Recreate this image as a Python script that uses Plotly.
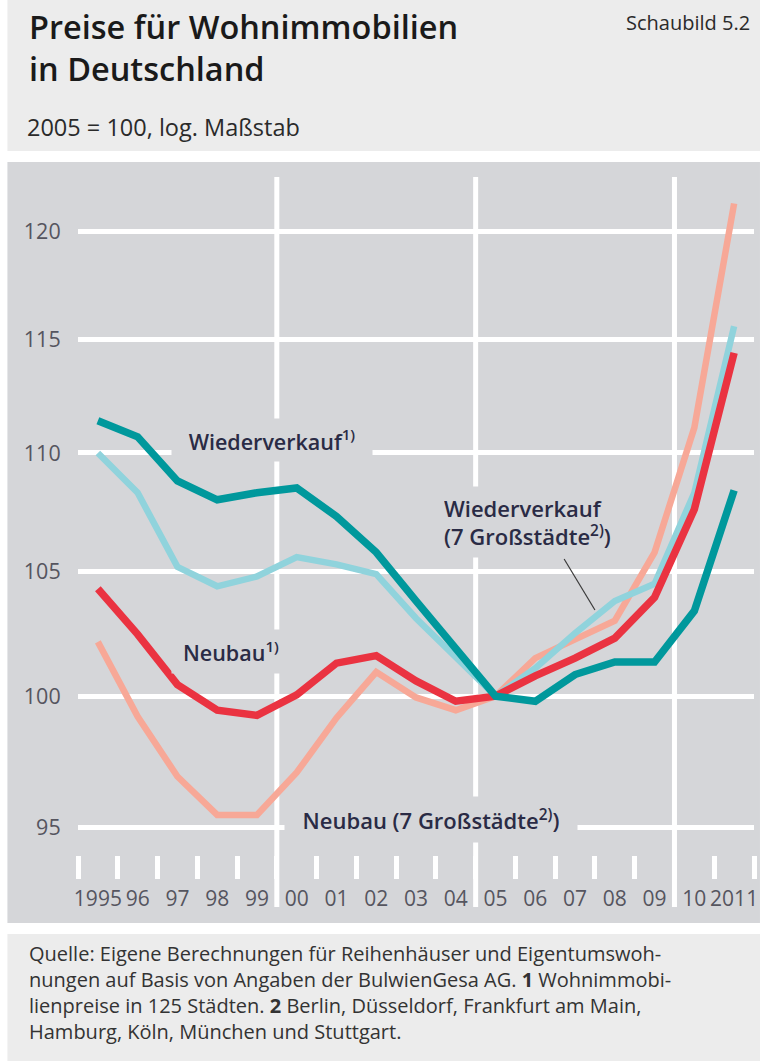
import math
import plotly.graph_objects as go

# ---------------- data ----------------
years = ["1995", "96", "97", "98", "99", "00", "01", "02", "03", "04",
         "05", "06", "07", "08", "09", "10", "2011"]
wiederverkauf = [111.4, 110.7, 108.8, 108.0, 108.3, 108.5, 107.3, 105.8, 103.8, 101.9,
                 100.0, 99.8, 100.85, 101.35, 101.35, 103.4, 108.4]
wiederverkauf_7 = [110.0, 108.3, 105.2, 104.4, 104.8, 105.6, 105.3, 104.9, 103.1, 101.5,
                   100.0, 101.1, 102.5, 103.8, 104.5, 108.3, 115.6]
neubau = [104.3, 102.45, 100.45, 99.45, 99.25, 100.05, 101.3, 101.6, 100.6, 99.8,
          100.0, 100.8, 101.5, 102.3, 103.95, 107.6, 114.4]
neubau_7 = [102.15, 99.2, 96.9, 95.45, 95.45, 97.05, 99.15, 100.95, 99.95, 99.45,
            100.0, 101.5, 102.25, 103.0, 105.8, 111.1, 121.3]
y_ticks = [95, 100, 105, 110, 115, 120]

# ---------------- geometry helpers ----------------
W, H = 764, 1061
L, R, T, B = 78, 758, 172, 855


def px(X):
    return (X - L) / (R - L)


def py(Y):
    return (B - Y) / (B - T)


xs = list(range(len(years)))
FONT = "Open Sans"
PANEL = "#d5d6d9"
LIGHT = "#ececec"
TXT = "#2a2b45"
TICK = "#55555f"

fig = go.Figure()
fig.add_trace(go.Scatter(x=xs, y=neubau_7, mode="lines",
                         line=dict(color="#f7a897", width=6.5), hoverinfo="skip"))
fig.add_trace(go.Scatter(x=xs, y=wiederverkauf_7, mode="lines",
                         line=dict(color="#90d3dc", width=6.5), hoverinfo="skip"))
fig.add_trace(go.Scatter(x=xs, y=neubau, mode="lines",
                         line=dict(color="#ea3341", width=7.5), hoverinfo="skip"))
fig.add_trace(go.Scatter(x=xs, y=wiederverkauf, mode="lines",
                         line=dict(color="#00989c", width=7.5), hoverinfo="skip"))

shapes = [
    dict(type="rect", xref="paper", yref="paper", x0=px(7), x1=px(764), y0=py(151), y1=py(0),
         fillcolor=LIGHT, line=dict(width=0), layer="below"),
    dict(type="rect", xref="paper", yref="paper", x0=px(7), x1=px(764), y0=py(923), y1=py(162),
         fillcolor=PANEL, line=dict(width=0), layer="below"),
    dict(type="rect", xref="paper", yref="paper", x0=px(7), x1=px(764), y0=py(1061), y1=py(934),
         fillcolor=LIGHT, line=dict(width=0), layer="below"),
]
for xv in [4.5, 9.5, 14.5]:
    shapes.append(dict(type="line", xref="x", yref="paper", x0=xv, x1=xv, y0=py(907), y1=py(177),
                       line=dict(color="white", width=5), layer="below"))
# leader line for "Wiederverkauf (7 Großstädte)"
shapes.append(dict(type="line", xref="paper", yref="paper", x0=px(567), y0=py(559), x1=px(598), y1=py(610),
                   line=dict(color="#3a3a3a", width=1.2)))

annotations = [
    dict(text="Preise für Wohnimmobilien<br>in Deutschland", xref="paper", yref="paper",
         x=px(27), y=py(2), xanchor="left", yanchor="top", align="left", showarrow=False,
         font=dict(family=FONT, size=32.5, color="#1a1a1a", weight=600)),
    dict(text="Schaubild 5.2", xref="paper", yref="paper", x=px(756), y=py(22),
         xanchor="right", yanchor="middle", showarrow=False,
         font=dict(family=FONT, size=20, color="#2a2a2a")),
    dict(text="2005 = 100, log. Maßstab", xref="paper", yref="paper", x=px(25), y=py(127),
         xanchor="left", yanchor="middle", showarrow=False,
         font=dict(family=FONT, size=23.5, color="#2a2a2a")),
    # series labels (boxes hide gridlines behind them)
    dict(text="Wiederverkauf<sup>1)</sup>", xref="paper", yref="paper", x=px(273), y=py(440),
         xanchor="center", yanchor="middle", showarrow=False, bgcolor=PANEL,
         width=200, height=42, borderpad=0,
         font=dict(family=FONT, size=21.5, color=TXT, weight=600)),
    dict(text="Wiederverkauf<br>(7 Großstädte<sup>2)</sup>)", xref="paper", yref="paper",
         x=px(445), y=py(522), xanchor="left", yanchor="middle", align="left", showarrow=False,
         bgcolor=PANEL, width=190, height=70, borderpad=0,
         font=dict(family=FONT, size=22, color=TXT, weight=600)),
    dict(text="Neubau<sup>1)</sup>", xref="paper", yref="paper", x=px(232), y=py(651),
         xanchor="center", yanchor="middle", showarrow=False, bgcolor=PANEL,
         width=118, height=43, borderpad=0,
         font=dict(family=FONT, size=21.5, color=TXT, weight=600)),
    dict(text="Neubau (7 Großstädte<sup>2)</sup>)", xref="paper", yref="paper", x=px(433), y=py(819),
         xanchor="center", yanchor="middle", showarrow=False, bgcolor=PANEL,
         width=292, height=45, borderpad=0,
         font=dict(family=FONT, size=22, color=TXT, weight=600)),
]

footer = [
    "Quelle: Eigene Berechnungen für Reihenhäuser und Eigentumswoh-",
    "nungen auf Basis von Angaben der BulwienGesa AG. <b>1</b> Wohnimmobi-",
    "lienpreise in 125 Städten. <b>2</b> Berlin, Düsseldorf, Frankfurt am Main,",
    "Hamburg, Köln, München und Stuttgart.",
]
annotations.append(dict(text="<br>".join(footer), xref="paper", yref="paper", x=px(27), y=py(938),
                        xanchor="left", yanchor="top", align="left", showarrow=False,
                        font=dict(family=FONT, size=20, color="#333333")))

# log axis range: 95 at Y=827, 120 at Y=231
k = (math.log10(120) - math.log10(95)) / (827 - 231)
y_lo = math.log10(95) - (B - 827) * k
y_hi = math.log10(120) + (231 - T) * k

fig.update_layout(
    width=W, height=H,
    margin=dict(l=L, r=W - R, t=T, b=H - B, pad=0),
    paper_bgcolor="white", plot_bgcolor="rgba(0,0,0,0)",
    showlegend=False,
    shapes=shapes, annotations=annotations,
    xaxis=dict(range=[-0.5, len(years) - 0.5], tickmode="array", tickvals=xs, ticktext=years,
               ticks="outside", ticklen=25, tickcolor="rgba(0,0,0,0)",
               showgrid=False, zeroline=False, showline=False,
               tickfont=dict(family=FONT, size=21, color=TICK),
               minor=dict(tickmode="array", tickvals=[v - 0.5 for v in range(len(years) + 1)],
                          ticks="outside", ticklen=23, tickwidth=5, tickcolor="white", showgrid=False)),
    yaxis=dict(type="log", range=[y_lo, y_hi], tickmode="array", tickvals=y_ticks,
               ticktext=[str(v) for v in y_ticks],
               ticks="outside", ticklen=12, tickcolor="rgba(0,0,0,0)",
               showgrid=True, gridcolor="white", gridwidth=5, zeroline=False, showline=False,
               tickfont=dict(family=FONT, size=21.5, color=TICK)),
)

fig.write_html("out.html", config={"displayModeBar": False},
               post_script="document.body.style.margin='0';")
